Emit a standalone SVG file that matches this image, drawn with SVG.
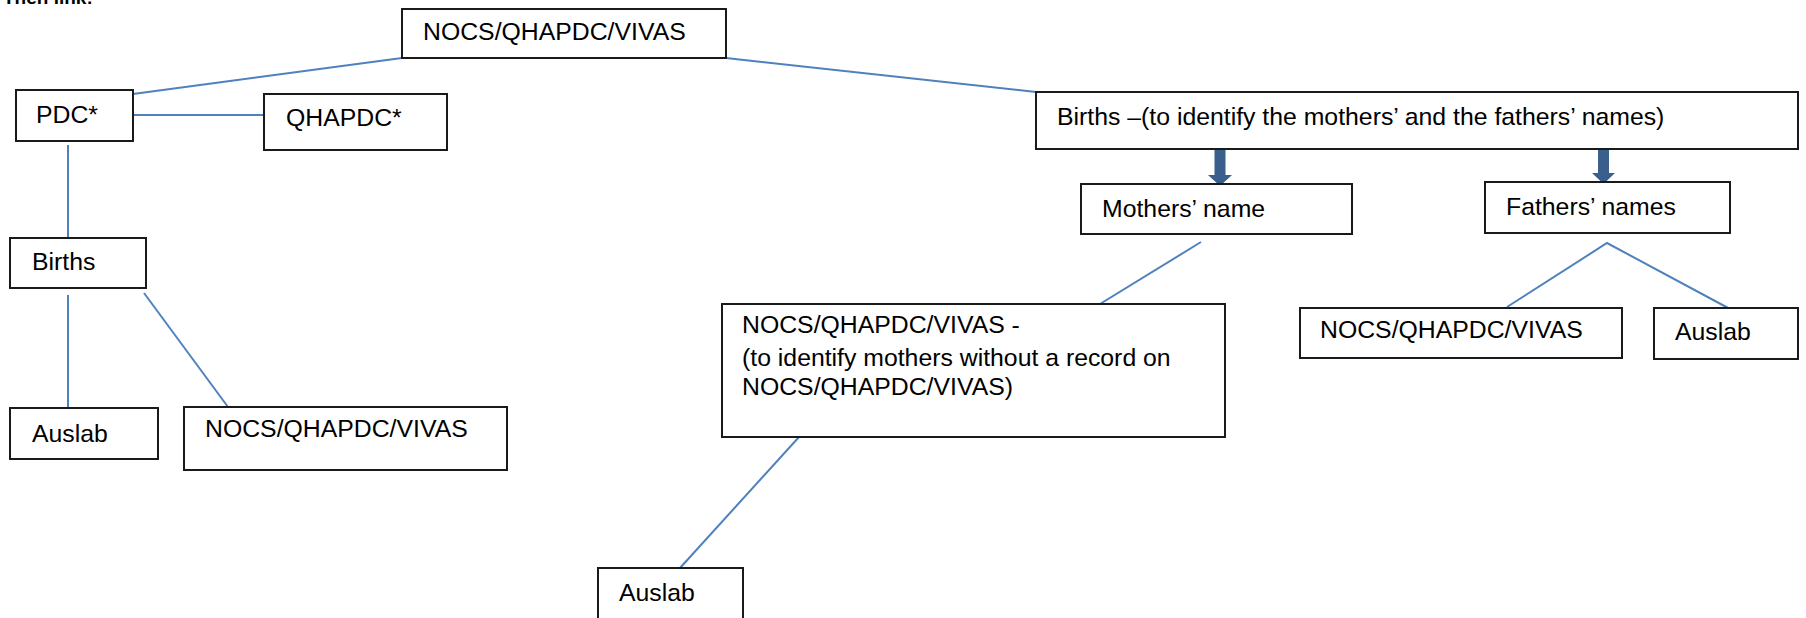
<svg xmlns="http://www.w3.org/2000/svg" width="1806" height="618" viewBox="0 0 1806 618">
<style>
.box{fill:#fff;stroke:#1a1a1a;stroke-width:2}
.t{font-family:"Liberation Sans",Arial,sans-serif;font-size:24.8px;fill:#000}
.h{font-family:"Liberation Sans",Arial,sans-serif;font-size:19px;font-weight:bold;fill:#000}
.c{stroke:#4F81BD;stroke-width:2;fill:none}
.a{fill:#3B5F8C}
</style>
<rect width="1806" height="618" fill="#fff"/>
<text class="h" x="3" y="4">Then link:</text>
<g id="connectors">
<line class="c" x1="402" y1="58" x2="133" y2="94"/>
<line class="c" x1="133" y1="115" x2="264" y2="115"/>
<line class="c" x1="726" y1="58" x2="1036" y2="92"/>
<line class="c" x1="68" y1="145" x2="68" y2="238"/>
<line class="c" x1="68" y1="295" x2="68" y2="408"/>
<line class="c" x1="144" y1="293" x2="228" y2="407"/>
<line class="c" x1="1201" y1="242" x2="1100" y2="304"/>
<line class="c" x1="799" y1="437" x2="680" y2="568"/>
<polyline class="c" points="1507,307 1607,243 1730,309"/>
<path class="a" d="M1214.5,147 H1225.5 V175 H1232 L1220,186 L1208,175 H1214.5 Z"/>
<path class="a" d="M1598,145 H1609 V173 H1615 L1603.5,184 L1592,173 H1598 Z"/>
</g>
<g id="n-top"><rect class="box" x="402" y="9" width="324" height="49"/><text class="t" x="423" y="40">NOCS/QHAPDC/VIVAS</text></g>
<g id="n-pdc"><rect class="box" x="16" y="90" width="117" height="51"/><text class="t" x="36" y="123">PDC*</text></g>
<g id="n-qhapdc"><rect class="box" x="264" y="94" width="183" height="56"/><text class="t" x="286" y="126">QHAPDC*</text></g>
<g id="n-births-left"><rect class="box" x="10" y="238" width="136" height="50"/><text class="t" x="32" y="270">Births</text></g>
<g id="n-auslab-left"><rect class="box" x="10" y="408" width="148" height="51"/><text class="t" x="32" y="442">Auslab</text></g>
<g id="n-nocs-left"><rect class="box" x="184" y="407" width="323" height="63"/><text class="t" x="205" y="437">NOCS/QHAPDC/VIVAS</text></g>
<g id="n-births-right"><rect class="box" x="1036" y="92" width="762" height="57"/><text class="t" x="1057" y="125">Births –(to identify the mothers’ and the fathers’ names)</text></g>
<g id="n-mothers"><rect class="box" x="1081" y="184" width="271" height="50"/><text class="t" x="1102" y="217">Mothers’ name</text></g>
<g id="n-fathers"><rect class="box" x="1485" y="182" width="245" height="51"/><text class="t" x="1506" y="215">Fathers’ names</text></g>
<g id="n-nocs-mid"><rect class="box" x="722" y="304" width="503" height="133"/><text class="t" x="742" y="333">NOCS/QHAPDC/VIVAS -</text><text class="t" x="742" y="366">(to identify mothers without a record on</text><text class="t" x="742" y="395">NOCS/QHAPDC/VIVAS)</text></g>
<g id="n-auslab-bottom"><rect class="box" x="598" y="568" width="145" height="70"/><text class="t" x="619" y="601">Auslab</text></g>
<g id="n-nocs-right"><rect class="box" x="1300" y="308" width="322" height="50"/><text class="t" x="1320" y="338">NOCS/QHAPDC/VIVAS</text></g>
<g id="n-auslab-right"><rect class="box" x="1654" y="308" width="144" height="51"/><text class="t" x="1675" y="340">Auslab</text></g>
</svg>
